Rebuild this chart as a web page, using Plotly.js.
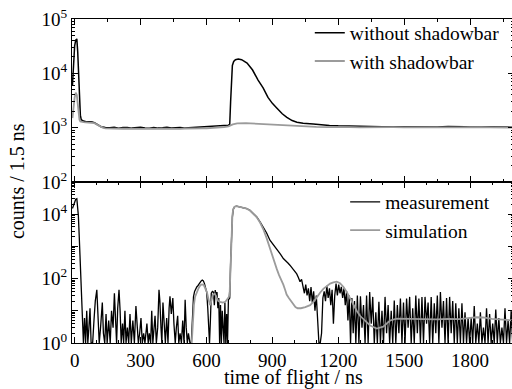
<!DOCTYPE html>
<html>
<head>
<meta charset="utf-8">
<script src="https://cdn.plot.ly/plotly-3.0.1.min.js"></script>
<style>
html,body{margin:0;padding:0;background:#fff;overflow:hidden;}
#chart{width:520px;height:389px;}
</style>
</head>
<body>
<div id="chart"></div>
<script>
// ---------- TOP PANEL: without / with shadowbar ----------
const topTimeWithout = [
  -10,-5,0,5,10,14,18,22,26,30,
  40,50,60,70,80,90,100,110,120,140,
  160,180,200,220,240,260,280,300,320,340,
  360,380,400,420,440,460,480,500,520,540,
  560,580,600,620,640,660,680,700,706,710,
  714,718,724,732,745,760,785,810,835,858,
  880,900,920,945,966,990,1012,1040,1086,1120,
  1160,1200,1250,1300,1350,1400,1450,1500,1550,1600,
  1650,1700,1750,1800,1850,1900,1950,2000
];
const topCountsWithout = [
  6000,18000,32000,41000,43000,25000,8000,3000,1700,1400,
  1320,1300,1290,1290,1270,1230,1160,1090,1040,1010,
  995,1020,975,1005,1010,980,990,1015,985,975,
  1005,980,995,1015,985,1000,1010,990,1005,1015,
  1005,1030,1045,1065,1090,1085,1100,1110,1150,3000,
  9000,14000,16500,17800,18300,17800,15500,11500,7500,5400,
  3600,2800,2300,1800,1550,1350,1260,1200,1170,1130,
  1100,1080,1060,1050,1045,1040,1035,1045,1030,1040,
  1030,1045,1030,1040,1025,1035,1030,1020
];
const topTimeWith = [
  -10,-5,0,5,10,14,18,22,26,30,
  40,50,60,70,80,90,100,110,120,130,
  140,160,180,200,220,240,260,280,300,320,
  340,360,380,400,420,440,460,480,500,520,
  540,560,580,600,620,640,660,680,700,720,
  740,760,780,800,830,860,900,940,980,1020,
  1060,1100,1150,1200,1250,1300,1350,1400,1450,1500,
  1550,1600,1650,1700,1750,1800,1850,1900,1950,2000
];
const topCountsWith = [
  1500,2500,3600,4400,4000,2800,1800,1400,1300,1280,
  1260,1250,1240,1245,1230,1210,1150,1080,1020,990,
  970,960,950,965,955,960,950,945,960,950,
  955,945,950,960,950,955,960,950,965,960,
  960,965,970,975,980,990,1000,1020,1060,1150,
  1200,1220,1210,1200,1180,1160,1120,1090,1070,1050,
  1040,1030,1020,1030,1020,1010,1020,1010,1020,1015,
  1010,1020,1010,1020,1010,1020,1015,1010,1000,1005
];

// ---------- BOTTOM PANEL: measurement / simulation ----------
const botTimeMeas = [
  -10,-5,0,5,10,13,17,21,25,29,34,
  40,45,50,55,60,65,70,75,82,88,
  94,101,106,112,118,126,131,137,143,148,
  155,162,168,175,181,186,191,196,202,207,
  212,218,223,229,234,240,246,252,258,265,
  272,279,285,290,296,302,308,314,320,329,
  335,340,346,351,356,360,366,372,378,384,
  388,393,397,402,408,413,419,425,430,434,
  440,447,452,458,463,469,474,480,486,492,
  498,503,508,513,518,525,531,
  536,541,546,551,556,561,566,571,576,581,
  586,591,596,601,606,611,614,618,622,627,
  632,636,640,644,648,652,656,660,664,668,
  672,676,680,684,688,692,696,700,706,
  710,714,718,722,728,737,750,765,783,798,
  814,829,844,859,874,889,904,920,935,950,
  958,965,972,980,988,995,1003,1011,1018,1026,1033,
  1040,1046,1052,1058,1064,1070,1076,1082,1088,1094,
  1100,1106,1112,1118,1124,1130,1136,1142,1148,1154,
  1160,1166,1172,1178,1184,1190,1196,1202,1208,1214,
  1220,1226,1232,1238,1244,1250,1256,1262,1268,1274,
  1280,1287,1294,1301,1308,1315,1322,1329,1336,1343,
  1350,1357,1364,1371,1378,1385,1392,1399,1406,1413,
  1420,1427,1434,1441,1448,1455,1462,1469,1476,1483,
  1490,1497,1504,1511,1518,1525,1532,1539,1546,1553,
  1560,1567,1574,1581,1588,1595,1602,1609,1616,1623,
  1630,1637,1644,1651,1658,1665,1672,1679,1686,1693,
  1700,1707,1714,1721,1728,1735,1742,1749,1756,1763,
  1770,1777,1784,1791,1798,1805,1812,1819,1826,1833,
  1840,1847,1854,1861,1868,1875,1882,1889,1896,1903,
  1910,1917,1924,1931,1938,1945,1952,1959,1966,1973,
  1980,1987,1994,2000
];
const botCountsMeas = [
  15000,20000,25000,29000,30000,20000,9000,2000,400,80,21,
  1,6,1,10,1,3,12,1,1,5,
  20,45,8,1,3,18,2,1,8,1,
  5,1,10,3,35,6,1,12,45,10,
  1,4,1,10,1,3,1,8,1,5,
  1,14,3,1,2,6,1,2,1,4,
  1,2,1,10,1,2,7,1,3,45,
  20,3,1,18,4,1,6,1,12,28,
  8,25,4,1,3,7,1,2,1,5,
  1,22,3,1,2,1,1,
  8,27,40,48,55,60,70,78,85,90,
  85,70,50,38,12,2,1,5,35,40,
  38,15,44,30,38,12,25,1,15,1,
  10,3,1,18,1,8,1,22,25,
  300,2500,8000,14000,17000,17800,17000,16000,15000,13200,
  10500,8200,5800,4000,2600,1550,1150,850,600,420,
  380,330,300,260,220,190,170,140,110,80,95,
  60,35,65,30,50,20,55,18,40,10,
  30,3,1,1,2,25,40,20,60,25,
  50,15,45,4,30,70,30,65,35,55,
  25,50,15,40,5,30,1,25,2,20,
  1,30,1,28,3,15,1,30,1,38,
  4,27,1,9,1,19,1,10,1,27,
  2,15,1,10,1,21,1,15,2,24,
  1,18,1,24,3,27,1,12,1,30,
  2,24,1,27,1,27,4,18,1,27,
  1,17,2,30,1,38,3,20,1,25,
  1,27,2,20,1,17,1,12,1,17,
  1,9,1,6,1,6,1,14,1,4,
  1,9,1,3,1,12,1,8,1,4,
  1,11,1,6,1,3,1,12,1,5,
  1,10,1,8
];
const botTimeSim = [
  533,538,543,548,556,564,572,580,588,596,
  602,610,616,622,630,638,646,654,662,674,
  686,696,702,706,710,714,718,722,728,737,
  750,765,783,798,814,829,844,859,874,889,
  900,910,920,930,940,950,958,965,975,985,
  995,1005,1015,1030,1050,1072,1090,1102,1118,1132,
  1148,1163,1178,1193,1208,1224,1239,1254,1269,1284,
  1299,1320,1345,1375,1405,1420,1436,1466,1500,1550,
  1600,1650,1700,1750,1800,1830,1860,1900,1950,2000
];
const botCountsSim = [
  1,5,15,27,40,50,62,66,63,48,
  38,22,15,20,32,34,25,20,19,18,
  19,24,27,40,400,3000,9000,14500,17000,17800,
  17000,16000,14800,13000,10300,8000,5500,3400,1800,850,
  480,300,200,130,95,65,45,32,25,20,
  17,13,12,12,13,15,20,27,37,48,
  60,70,76,80,72,55,38,24,15,10,
  7,5,3.5,2.8,3.2,4,5,5.7,5.6,5.5,
  5.6,5.4,5.6,5.5,6,6.3,6.2,5.6,5.3,5
];

// ---------- axis ticks ----------
const xTick0 = 0, xTickStep = 300;
const topYTickVals = [100, 1000, 10000, 100000];
const topYTickText = ['10<sup>2</sup>','10<sup>3</sup>','10<sup>4</sup>','10<sup>5</sup>'];
const botYTickVals = [1, 10, 100, 1000, 10000, 100000];
const botYTickText = ['10<sup>0</sup>','','10<sup>2</sup>','','10<sup>4</sup>',''];
function minorLog(a, b){ const v=[]; for(let d=a; d<b; d++){ for(let m=2;m<=9;m++){ v.push(m*Math.pow(10,d)); } } return v; }

const FONT = 'Liberation Serif';
const BLACK = '#000000', GRAY = '#9b9b9b';

const traces = [
  {x: topTimeWithout, y: topCountsWithout, xaxis:'x2', yaxis:'y2', type:'scatter', mode:'lines',
   name:'without shadowbar', line:{color:BLACK, width:1.5}, legend:'legend'},
  {x: topTimeWith, y: topCountsWith, xaxis:'x2', yaxis:'y2', type:'scatter', mode:'lines',
   name:'with shadowbar', line:{color:GRAY, width:1.8}, legend:'legend'},
  {x: botTimeMeas, y: botCountsMeas, xaxis:'x', yaxis:'y', type:'scatter', mode:'lines',
   name:'measurement', line:{color:BLACK, width:1.3}, legend:'legend2'},
  {x: botTimeSim, y: botCountsSim, xaxis:'x', yaxis:'y', type:'scatter', mode:'lines',
   name:'simulation', line:{color:GRAY, width:1.8}, legend:'legend2'}
];

const axisCommon = {showline:true, linecolor:'black', linewidth:1, mirror:'ticks', showgrid:false, zeroline:false,
  ticks:'inside', tickcolor:'black', tickwidth:1};
const split = 0.497;
const layout = {
  width:520, height:389,
  margin:{l:72, r:6, t:19, b:46, pad:0},
  paper_bgcolor:'white', plot_bgcolor:'white',
  font:{family:FONT, size:19, color:'black'},
  showlegend:true,
  xaxis: Object.assign({}, axisCommon, {domain:[0,1], anchor:'y', range:[-12,2000], tickmode:'linear', tick0:xTick0, dtick:xTickStep,
    ticklen:6, tickfont:{family:FONT, size:19}, ticklabelstandoff:0,
    minor:{dtick:100, tick0:0, ticks:'inside', ticklen:3, tickcolor:'black'}}),
  xaxis2: Object.assign({}, axisCommon, {domain:[0,1], anchor:'y2', matches:'x', range:[-12,2000], tickmode:'linear', tick0:xTick0, dtick:xTickStep,
    ticklen:6, showticklabels:false,
    minor:{dtick:150, tick0:0, ticks:'inside', ticklen:3, tickcolor:'black'}}),
  yaxis: Object.assign({}, axisCommon, {domain:[0,split], anchor:'x', type:'log', range:[0,5], tickmode:'array',
    tickvals:botYTickVals, ticktext:botYTickText, ticklen:6, tickfont:{family:FONT, size:19},
    minor:{tickmode:'array', tickvals:minorLog(0,5), ticks:'inside', ticklen:3, tickcolor:'black'}}),
  yaxis2: Object.assign({}, axisCommon, {domain:[split,1], anchor:'x2', type:'log', range:[2,5], tickmode:'array',
    tickvals:topYTickVals, ticktext:topYTickText, ticklen:6, tickfont:{family:FONT, size:19},
    minor:{tickmode:'array', tickvals:minorLog(2,5), ticks:'inside', ticklen:3, tickcolor:'black'}}),
  legend:{x:0.538, y:1.017, xanchor:'left', yanchor:'top', bgcolor:'rgba(0,0,0,0)', borderwidth:0,
    font:{family:FONT, size:19.5}, tracegroupgap:0, itemwidth:30},
  legend2:{x:0.618, y:0.495, xanchor:'left', yanchor:'top', bgcolor:'rgba(0,0,0,0)', borderwidth:0,
    font:{family:FONT, size:19.5}, tracegroupgap:0, itemwidth:30},
  annotations:[
    {text:'counts / 1.5 ns', xref:'paper', yref:'paper', x:-0.1244, y:0.5, xanchor:'center', yanchor:'middle',
     textangle:-90, showarrow:false, font:{family:FONT, size:20}},
    {text:'time of flight / ns', xref:'paper', yref:'paper', x:0.502, y:-0.108, xanchor:'center', yanchor:'middle',
     showarrow:false, font:{family:FONT, size:20}}
  ]
};
Plotly.newPlot('chart', traces, layout, {displayModeBar:false, staticPlot:true});
</script>
</body>
</html>
